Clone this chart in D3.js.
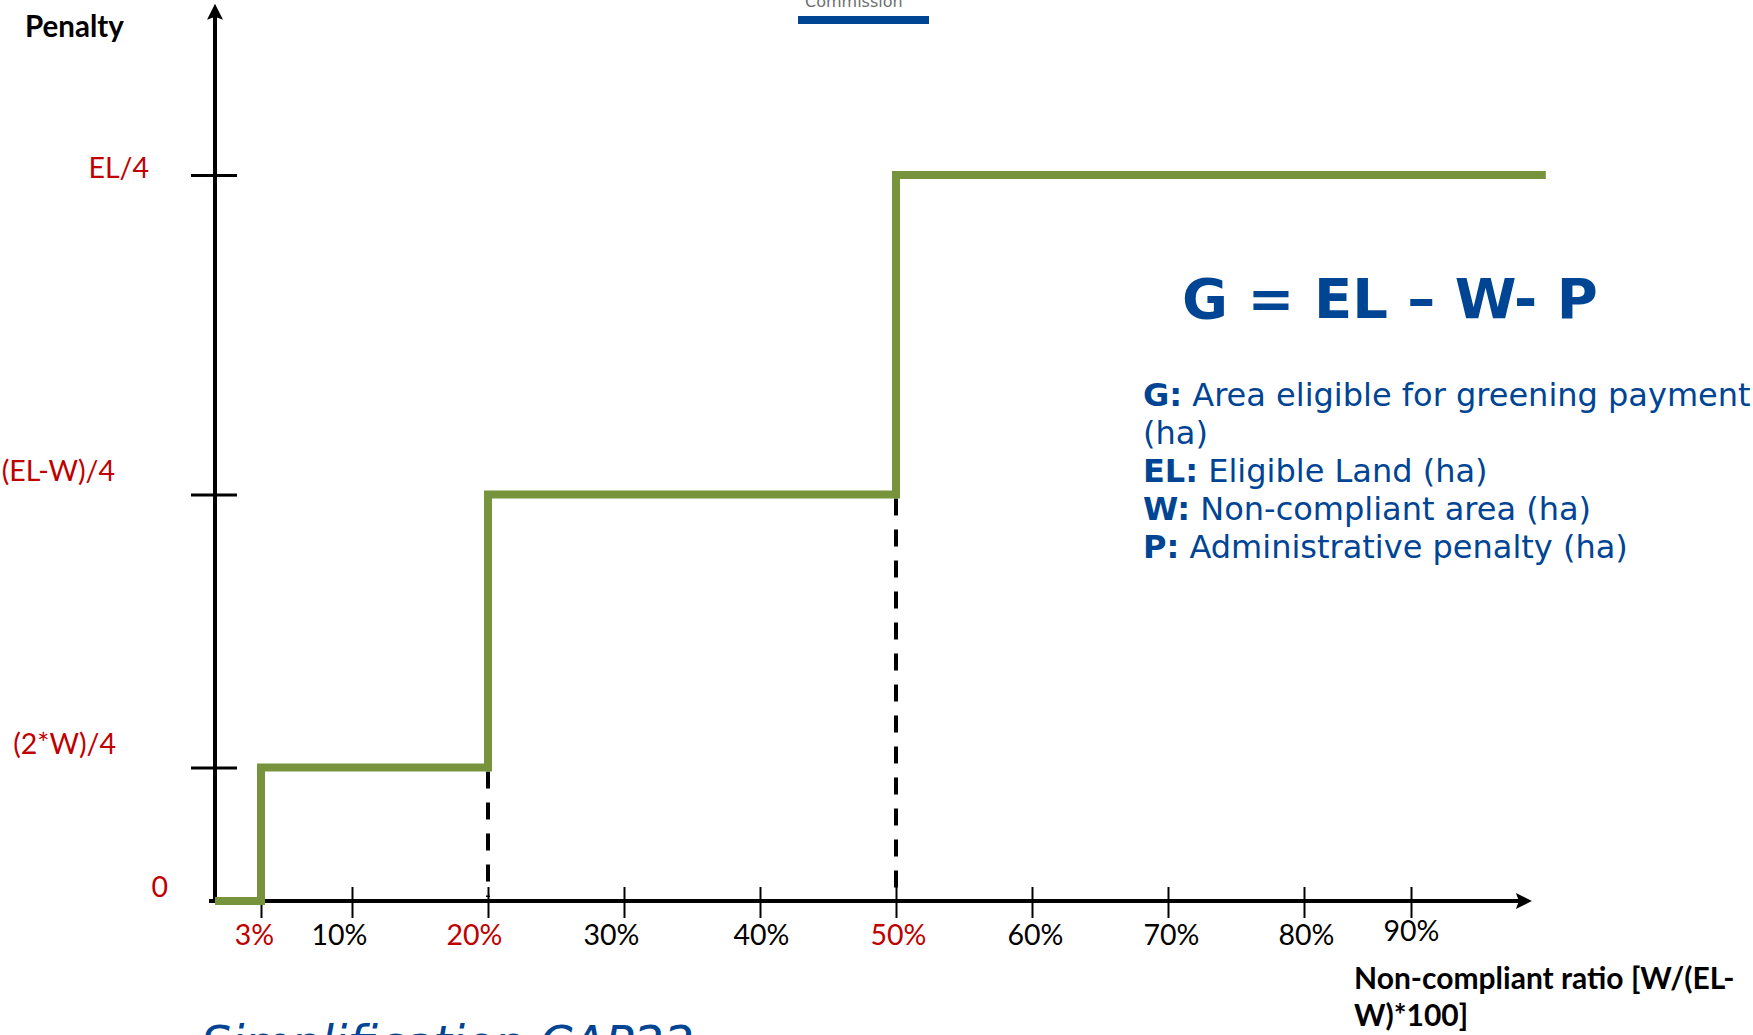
<!DOCTYPE html>
<html lang="en">
<head>
<meta charset="UTF-8">
<title>Greening penalty</title>
<script src="https://cdn.jsdelivr.net/npm/d3@7"></script>
<style>
  body { margin: 0; background: #fff; }
  svg { display: block; }
</style>
</head>
<body>
<script>
// x axis: non-compliant ratio in %
const xTicks = [3, 10, 20, 30, 40, 50, 60, 70, 80, 90];
const xHighlight = [3, 20, 50];
// y axis: penalty levels (schematic) and their labels
const yLevels = [0, 4.6, 14, 25];
const yLabels = ["0", "(2*W)/4", "(EL-W)/4", "EL/4"];
// step function: penalty after each jump
const stepX = [0, 3, 20, 50, 102.6];
const stepY = [0, 4.6, 14, 25, 25];
// dashed drop lines under the jumps
const dropX = [20, 50];
const dropY = [4.6, 14];
// formula and legend
const formula = "G = EL \u2013 W- P";
const legendKeys = ["G:", "", "EL:", "W:", "P:"];
const legendTexts = [" Area eligible for greening payment", "(ha)", " Eligible Land (ha)",
                     " Non-compliant area (ha)", " Administrative penalty (ha)"];

// layout nudges for the hand placed labels (pixels)
const xLabelDx = [-7, -13, -14, -13, 1, 2, 3, 3, 2, 0];
const yLabelDx = [-47, -99, -100, -66];
const yLabelDy = [-4, -13, -13, 3];

const W = 1753, H = 1035;
const green = "#77933c", red = "#c00000", blue = "#004494";
const calibri = "Lato, 'Open Sans', sans-serif";
const verdana = "'DejaVu Sans', Verdana, sans-serif";

const svg = d3.select("body").append("svg")
    .attr("width", W).attr("height", H);
svg.append("rect").attr("width", W).attr("height", H).attr("fill", "#fff");

// the drawing is hand made, so the ratio axis is piecewise
const x = d3.scaleLinear()
    .domain([0, 3, 10, 80, 90])
    .range([215, 261, 352, 1304, 1411]);
const y = d3.scaleLinear()
    .domain([0, 25])
    .range([901, 175]);

const x0 = x(0), y0 = y(0);
const xAxisEnd = 101.3, yAxisEnd = 30.9;

// header bits cut off at the top
svg.append("text")
    .attr("x", 805).attr("y", 7)
    .attr("font-family", verdana).attr("font-size", 16)
    .attr("fill", "#6d6e71")
    .text("Commission");
svg.append("rect")
    .attr("x", 798).attr("y", 16).attr("width", 131).attr("height", 8)
    .attr("fill", blue);

// x axis
svg.append("line")
    .attr("x1", x0 - 6).attr("x2", x(xAxisEnd) - 6)
    .attr("y1", y0).attr("y2", y0)
    .attr("stroke", "#000").attr("stroke-width", 4);
svg.append("path")
    .attr("d", `M${x(xAxisEnd)},${y0} l-16,-8 l3,8 l-3,8 z`)
    .attr("fill", "#000");

const xAxis = svg.append("g")
    .attr("transform", `translate(0,${y0})`)
    .call(d3.axisBottom(x).tickValues(xTicks).tickFormat(d => d + "%"));
xAxis.select(".domain").remove();
xAxis.selectAll(".tick line")
    .attr("y1", d => d === 3 ? 0 : -14)
    .attr("y2", 17)
    .attr("stroke", "#000").attr("stroke-width", 2);
xAxis.selectAll(".tick text")
    .attr("y", d => d === 90 ? 40 : 44)
    .attr("dy", 0)
    .attr("dx", (d, i) => xLabelDx[i])
    .attr("font-family", calibri).attr("font-size", 28.5)
    .attr("fill", d => xHighlight.includes(d) ? red : "#000");

// y axis
svg.append("line")
    .attr("x1", x0).attr("x2", x0)
    .attr("y1", y0 + 2).attr("y2", y(yAxisEnd) + 8)
    .attr("stroke", "#000").attr("stroke-width", 4);
svg.append("path")
    .attr("d", `M${x0},${y(yAxisEnd)} l8,16 l-8,-3 l-8,3 z`)
    .attr("fill", "#000");

const yAxis = svg.append("g")
    .attr("transform", `translate(${x0},0)`)
    .call(d3.axisLeft(y).tickValues(yLevels.slice(1)).tickFormat(""));
yAxis.select(".domain").remove();
yAxis.selectAll(".tick line")
    .attr("x1", 22).attr("x2", -24)
    .attr("stroke", "#000").attr("stroke-width", 3);

svg.append("g").selectAll("text")
    .data(yLevels)
    .join("text")
    .attr("x", (d, i) => x0 + yLabelDx[i])
    .attr("y", (d, i) => y(d) + yLabelDy[i])
    .attr("text-anchor", "end")
    .attr("font-family", calibri).attr("font-size", 28.5)
    .attr("fill", red)
    .text((d, i) => yLabels[i]);

svg.append("text")
    .attr("x", 25).attr("y", 37)
    .attr("font-family", calibri).attr("font-size", 29.5).attr("font-weight", "bold")
    .attr("fill", "#000")
    .text("Penalty");

// dashed drop lines
svg.append("g").selectAll("line")
    .data(dropX)
    .join("line")
    .attr("x1", d => x(d)).attr("x2", d => x(d))
    .attr("y1", (d, i) => y(dropY[i]) + 4)
    .attr("y2", y0 - 4)
    .attr("stroke", "#000").attr("stroke-width", 4)
    .attr("stroke-dasharray", "17 14");

// the penalty step line
const steps = stepX.map((v, i) => [v, stepY[i]]);
svg.append("path")
    .datum(steps)
    .attr("fill", "none")
    .attr("stroke", green)
    .attr("stroke-width", 8)
    .attr("stroke-linejoin", "miter")
    .attr("d", d3.line()
        .x(d => x(d[0]))
        .y(d => y(d[1]))
        .curve(d3.curveStepAfter));

// x axis title
const xTitle = svg.append("text")
    .attr("font-family", calibri).attr("font-size", 30).attr("font-weight", "bold")
    .attr("fill", "#000");
xTitle.append("tspan").attr("x", 1354).attr("y", 989).text("Non-compliant ratio [W/(EL-");
xTitle.append("tspan").attr("x", 1354).attr("y", 1026).text("W)*100]");

// formula
svg.append("text")
    .attr("x", 1182).attr("y", 318)
    .attr("font-family", verdana).attr("font-size", 56).attr("font-weight", "bold")
    .attr("fill", blue)
    .style("white-space", "pre")
    .text(formula);

// legend
const legend = svg.append("g")
    .attr("font-family", verdana).attr("font-size", 32)
    .attr("fill", blue);
legendKeys.forEach((k, i) => {
    const t = legend.append("text")
        .attr("x", 1143).attr("y", 406 + i * 38)
        .style("white-space", "pre");
    if (k) t.append("tspan").attr("font-weight", "bold").text(k);
    t.append("tspan").text(legendTexts[i]);
});

// slide subtitle cut off at the bottom
svg.append("text")
    .attr("x", 201).attr("y", 1060)
    .attr("font-family", verdana).attr("font-size", 47.5).attr("font-style", "italic")
    .attr("fill", blue)
    .text("Simplification CAP22");
</script>
</body>
</html>
